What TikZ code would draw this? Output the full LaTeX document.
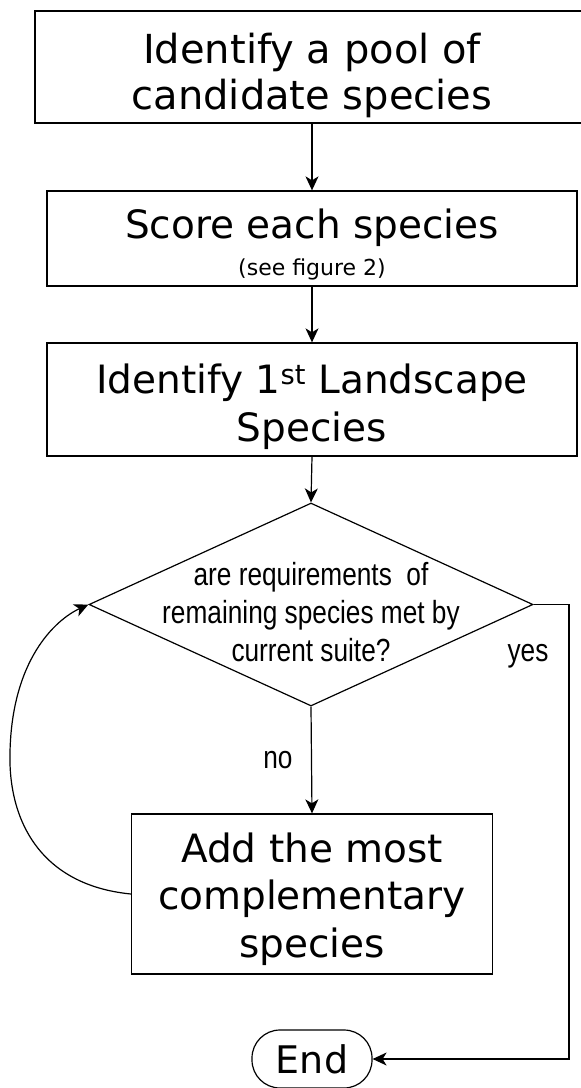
\documentclass[tikz,border=0pt]{standalone}
\usepackage{fontspec}
\setmainfont{DejaVu Sans}
\newfontfamily\narrowfont[FakeStretch=0.82]{Liberation Sans}
\usetikzlibrary{shapes.geometric,arrows.meta}
\begin{document}
\begin{tikzpicture}[x=1pt,y=-1pt,
  box/.style={draw, line width=1.3pt, inner sep=0pt, align=center,
    font=\fontsize{39}{46}\selectfont},
  arr/.style={line width=1.2pt, -{Stealth[length=14pt,width=13pt,inset=4pt]}},
  lab/.style={font=\narrowfont\fontsize{32}{38}\selectfont, inner sep=0pt}
]
\useasboundingbox (0,0) rectangle (581,1088);
\clip (0,0) rectangle (581,1088);
\fill[white] (0,0) rectangle (581,1088);

\node[box, line width=2pt, minimum width=554pt, minimum height=112pt,
  font=\fontsize{40}{46}\selectfont] (b1) at (312,67)
  {\rule{0pt}{48pt}Identify a pool of\\candidate species};
\node[box, minimum width=530pt, minimum height=95pt] (b2) at (312,238.5)
  {\rule{0pt}{42pt}Score each species\\[-9pt]{\fontsize{22}{26}\selectfont (see figure 2)}};
\node[box, minimum width=530pt, minimum height=113pt] (b3) at (312,399.5)
  {\rule{0pt}{44pt}Identify 1\textsuperscript{st} Landscape\\[2pt]Species};
\node[draw, diamond, line width=1.2pt, minimum width=444pt, minimum height=203pt,
  inner sep=0pt] (dia) at (311,604.5) {};
\node[lab, align=center] (dq) at (311,612)
  {are requirements\ \ of\\remaining species met by\\current suite?};
\node[lab, anchor=base] (yes) at (528,661) {yes};
\node[lab, anchor=base] (no) at (278,768) {no};
\node[box, minimum width=361pt, minimum height=160pt,
  font=\fontsize{39}{47.5}\selectfont] (b4) at (312,894)
  {\rule{0pt}{40pt}Add the most\\complementary\\species};
\node[draw, line width=1.2pt, rounded corners=28pt, minimum width=120pt,
  minimum height=58pt, inner sep=0pt, font=\fontsize{38}{44}\selectfont] (end) at (312,1059) {End};

\coordinate (yc) at (569,604.5);
\coordinate (lp) at (10,752);

\draw[arr] (b1.south) -- (b2.north);
\draw[arr] (b2.south) -- (b3.north);
\draw[arr] (b3.south) -- (dia.north);
\draw[arr] (dia.south) -- (b4.north);
\draw[arr] (dia.east) -- (yc) |- (end.east);
\draw[arr] (b4.west) .. controls (40,885) and (8,820) .. (lp)
  .. controls (12,660) and (55,620) .. (dia.west);
\end{tikzpicture}
\end{document}
